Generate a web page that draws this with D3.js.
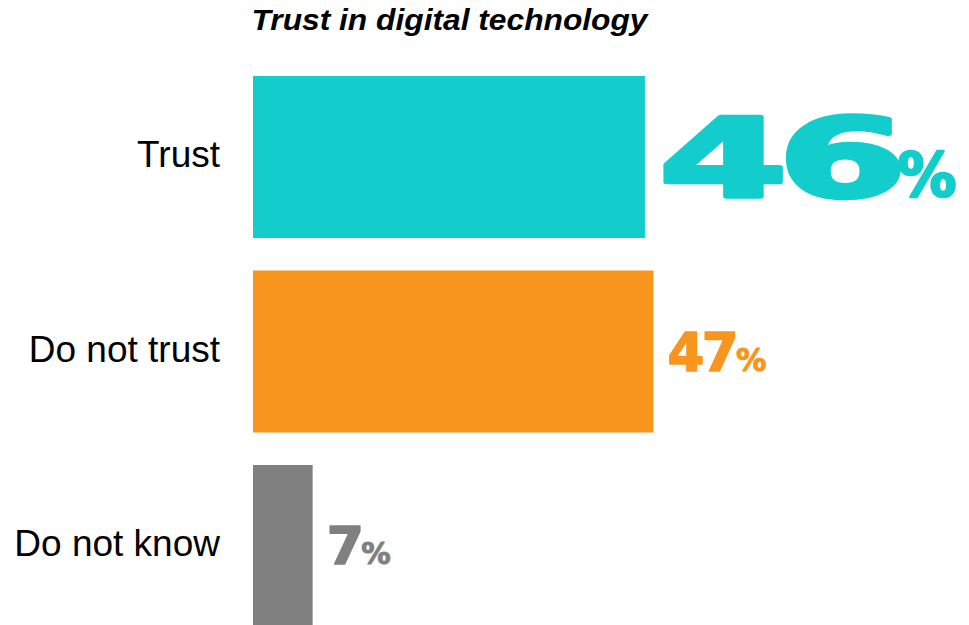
<!DOCTYPE html>
<html>
<head>
<meta charset="utf-8">
<script src="https://cdn.jsdelivr.net/npm/d3@7"></script>
<style>
  html, body { margin: 0; padding: 0; background: #ffffff; }
  svg { display: block; }
</style>
</head>
<body>
<svg id="chart" width="969" height="625"></svg>
<script>
// Survey answers: share of respondents (%)
const categories = ["Trust", "Do not trust", "Do not know"];
const values = [46, 47, 7];
const colors = ["#13CDCD", "#F7951F", "#808080"];
const chartTitle = "Trust in digital technology";

// Value label look per answer: numeral size / stretch / weight, percent-sign size / stretch / weight
const labelStyles = [
  { numSize: 108, numStretch: 1.71, numStroke: 4.5, pctSize: 60, pctStretch: 0.98, pctStroke: 2.5 },
  { numSize: 53,  numStretch: 1.0, numStroke: 1.6, pctSize: 32, pctStretch: 0.95, pctStroke: 1 },
  { numSize: 51,  numStretch: 1.05, numStroke: 1.6, pctSize: 30, pctStretch: 0.98, pctStroke: 1 }
];

const svg = d3.select("#chart");

const x = d3.scaleLinear().domain([0, 100]).range([253, 1105]);
const y = d3.scaleBand().domain(categories).range([76, 627]).paddingInner(0.167).paddingOuter(0);

// Title
svg.append("text")
  .attr("x", 449.5)
  .attr("y", 30)
  .attr("text-anchor", "middle")
  .attr("font-family", "Liberation Sans, Arial, sans-serif")
  .attr("font-weight", "bold")
  .attr("font-style", "italic")
  .attr("font-size", 30)
  .attr("textLength", 396)
  .attr("lengthAdjust", "spacingAndGlyphs")
  .attr("fill", "#000")
  .text(chartTitle);

// Bars
svg.selectAll("rect.bar")
  .data(categories)
  .join("rect")
  .attr("class", "bar")
  .attr("x", x(0))
  .attr("y", d => y(d))
  .attr("width", (d, i) => x(values[i]) - x(0))
  .attr("height", y.bandwidth())
  .attr("fill", (d, i) => colors[i]);

// Category labels
svg.selectAll("text.cat")
  .data(categories)
  .join("text")
  .attr("class", "cat")
  .attr("x", 220)
  .attr("y", d => y(d) + y.bandwidth() / 2 + 10)
  .attr("text-anchor", "end")
  .attr("font-family", "Liberation Sans, Arial, sans-serif")
  .attr("font-size", 37)
  .attr("fill", "#000")
  .text(d => d);

// Value labels: stretched heavy numeral followed by a smaller percent sign
categories.forEach((cat, i) => {
  const st = labelStyles[i];
  const cy = y(cat) + y.bandwidth() / 2;
  const x0 = x(values[i]) + 14;
  const base = cy + st.numSize * 0.36;

  const g = svg.append("g")
    .attr("fill", colors[i])
    .attr("stroke", colors[i])
    .attr("stroke-linejoin", "round")
    .attr("font-family", "DejaVu Sans, sans-serif")
    .attr("font-weight", "bold");

  const num = g.append("text")
    .attr("transform", `translate(${x0},${base}) scale(${st.numStretch},1)`)
    .attr("font-size", st.numSize)
    .attr("stroke-width", st.numStroke)
    .attr("letter-spacing", -st.numSize * 0.05)
    .text(values[i]);

  const numW = num.node().getComputedTextLength() * st.numStretch;

  g.append("text")
    .attr("transform", `translate(${x0 + numW},${base}) scale(${st.pctStretch},1)`)
    .attr("font-size", st.pctSize)
    .attr("stroke-width", st.pctStroke)
    .text("%");
});
</script>
</body>
</html>
